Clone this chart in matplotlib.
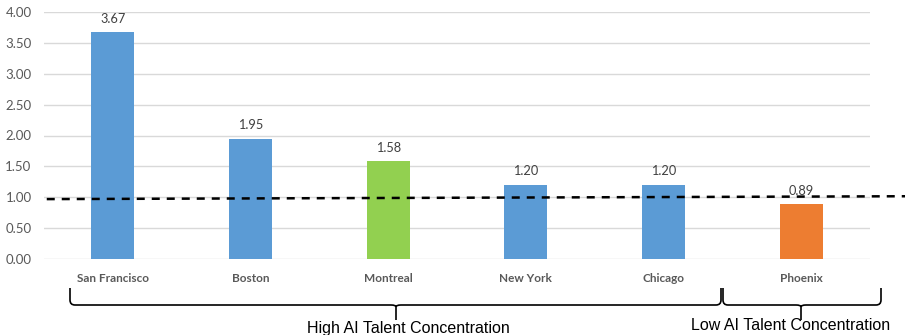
import matplotlib
matplotlib.use("Agg")
import matplotlib.pyplot as plt
from matplotlib.path import Path
from matplotlib.patches import PathPatch

cities = ["San Francisco", "Boston", "Montreal", "New York", "Chicago", "Phoenix"]
values = [3.67, 1.95, 1.58, 1.20, 1.20, 0.89]
colors = ["#5B9BD5", "#5B9BD5", "#92D050", "#5B9BD5", "#5B9BD5", "#ED7D31"]
yticks = [0.0, 0.5, 1.0, 1.5, 2.0, 2.5, 3.0, 3.5, 4.0]
group_labels = ["High AI Talent Concentration", "Low AI Talent Concentration"]
ref_line = [0.97, 1.02]  # dashed reference line (left, right)

W, H = 905, 335
fig = plt.figure(figsize=(W / 100, H / 100), dpi=100)
ax = fig.add_axes([44 / W, 1 - 259 / H, (870 - 44) / W, (259 - 12) / H])

x = list(range(len(cities)))
ax.bar(x, values, width=0.31, color=colors, zorder=2)
for xi, v in zip(x, values):
    ax.text(xi, v + 0.12, f"{v:.2f}", ha="center", va="bottom", fontsize=9.2,
            color="#404040", family="Lato")

ax.set_xlim(-0.5, len(cities) - 0.5)
ax.set_ylim(0, 4)
ax.set_yticks(yticks)
ax.set_yticklabels([f"{t:.2f}" for t in yticks], fontsize=9.5, color="#595959", family="Lato")
ax.set_xticks(x)
ax.set_xticklabels(cities, fontsize=8.5, color="#595959", fontweight="bold", family="Lato")
ax.tick_params(axis="both", length=0)
ax.tick_params(axis="x", pad=10)
ax.tick_params(axis="y", pad=9)
ax.grid(axis="y", color="#D9D9D9", linewidth=1, zorder=0)
for s in ax.spines.values():
    s.set_visible(False)

# dashed reference line extending past the axes
ax.plot([-0.48, 6.25], ref_line, ls=(0, (3.2, 2.8)), color="black", lw=1.8,
        clip_on=False, zorder=3)

# braces in figure pixel coordinates
def brace(x0, x1, xc, ytop=288, ymid=305, ytip=320, r=5):
    yt = H - ytop
    ym = H - ymid
    yp = H - ytip
    verts = [
        (x0, yt), (x0, ym + r), (x0, ym), (x0 + r, ym),
        (xc - r, ym), (xc, ym), (xc, ym - 2),
        (xc, yp),
    ]
    codes = [Path.MOVETO, Path.LINETO, Path.CURVE3, Path.CURVE3,
             Path.LINETO, Path.CURVE3, Path.CURVE3, Path.LINETO]
    verts2 = [
        (xc, ym - 2), (xc, ym), (xc + r, ym),
        (x1 - r, ym), (x1, ym), (x1, ym + r), (x1, yt),
    ]
    codes2 = [Path.MOVETO, Path.CURVE3, Path.CURVE3,
              Path.LINETO, Path.CURVE3, Path.CURVE3, Path.LINETO]
    tr = fig.dpi_scale_trans
    for v, c in ((verts, codes), (verts2, codes2)):
        p = Path([(a / 100, b / 100) for a, b in v], c)
        fig.add_artist(PathPatch(p, fill=False, lw=1.2, color="black",
                                 transform=tr))

brace(70, 721, 396)
brace(723, 881, 801)

fig.text(408 / W, 1 - 329 / H, group_labels[0], ha="center", va="center",
         fontsize=11.5, family="Liberation Sans", color="black")
fig.text(791 / W, 1 - 326 / H, group_labels[1], ha="center", va="center",
         fontsize=11.5, family="Liberation Sans", color="black")

fig.savefig("out.png", dpi=100)
